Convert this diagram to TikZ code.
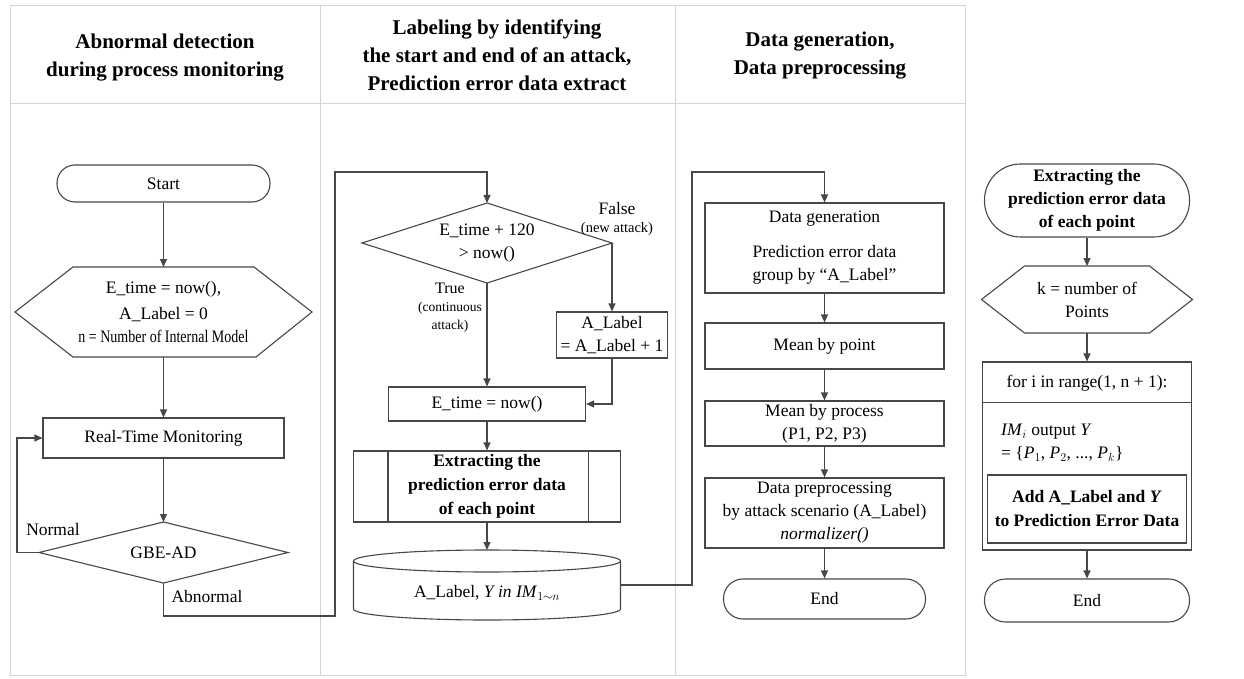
\documentclass[tikz,border=0pt]{standalone}
\usepackage{fontspec}
\setmainfont{Liberation Serif}
\usetikzlibrary{arrows.meta,calc}
\definecolor{lc}{HTML}{474747}
\definecolor{fc}{HTML}{D4D4D4}
\begin{document}
\begin{tikzpicture}[x=1pt,y=-1pt,
  tx/.style={font=\fontsize{17.5}{23}\selectfont, align=center, inner sep=0pt, text=black},
  bx/.style={tx, draw=lc, line width=1.1pt},
  ghost/.style={tx, outer sep=0pt},
  lin/.style={draw=lc, line width=1.1pt},
  arw/.style={lin, -{Triangle[length=8pt,width=7pt]}},
  hdr/.style={font=\fontsize{21}{28}\selectfont\bfseries, align=center, inner sep=0pt},
  bld/.style={font=\fontsize{17.5}{24}\selectfont\bfseries},
  frm/.style={draw=fc, line width=0.9pt}]
\useasboundingbox (0,0) rectangle (1244,679);
\fill[white] (0,0) rectangle (1244,679);
% frame
\draw[frm] (10,5) rectangle (965,675);
\draw[frm] (10,103) -- (965,103);
\draw[frm] (320,5) -- (320,675);
\draw[frm] (675,5) -- (675,675);
% headers
\node[hdr] (h1) at (165,57.5) {Abnormal detection\\during process monitoring};
\node[hdr] (h2) at (497,55.5) {Labeling by identifying\\the start and end of an attack,\\Prediction error data extract};
\node[hdr] (h3) at (820,56) {Data generation,\\Data preprocessing};

% ---------- column 1
\node[bx, rounded corners=18pt, minimum width=213pt, minimum height=37pt] (start) at (163.5,183.5) {Start};
\node[ghost, minimum width=297pt, minimum height=90pt] (hex1) at (163.5,312) {E\_time = now(),\\[3pt]A\_Label = 0\\\scalebox{0.8}[1]{n = Number of Internal Model}};
\draw[lin] (hex1.west) -- ([xshift=58pt]hex1.north west) -- ([xshift=-58pt]hex1.north east) -- (hex1.east) -- ([xshift=-56pt]hex1.south east) -- ([xshift=58pt]hex1.south west) -- cycle;
\node[bx, minimum width=241pt, minimum height=40pt] (rtm) at (163.5,438) {Real-Time Monitoring};
\node[ghost, minimum width=249pt, minimum height=61pt] (gbe) at (163.5,552.5) {GBE-AD};
\draw[lin] (gbe.north) -- (gbe.east) -- (gbe.south) -- (gbe.west) -- cycle;
\draw[arw] (start.south) -- (hex1.north);
\draw[arw] (hex1.south) -- (rtm.north);
\draw[arw] (rtm.south) -- (gbe.north);
\draw[arw] (gbe.west) -- ++(-22,0) |- (rtm.west);
\node[tx] (lnormal) at (53,530) {Normal};
\node[tx] (labn) at (207,597) {Abnormal};

% ---------- column 2
\node[ghost, minimum width=250pt, minimum height=80pt] (dia2) at (487,243) {E\_time + 120\\> now()};
\draw[lin] (dia2.north) -- (dia2.east) -- (dia2.south) -- (dia2.west) -- cycle;
\node[bx, minimum width=111pt, minimum height=46pt] (albox) at (612,335) {A\_Label\\= A\_Label + 1};
\node[bx, minimum width=197pt, minimum height=34pt] (etime) at (487,404) {E\_time = now()};
\node[bx, bld, minimum width=267pt, minimum height=71pt] (pp) at (487,486.5) {Extracting the\\prediction error data\\of each point};
\draw[lin] ([xshift=35pt]pp.north west) -- ([xshift=35pt]pp.south west);
\draw[lin] ([xshift=-33pt]pp.north east) -- ([xshift=-33pt]pp.south east);
\node[ghost, minimum width=267pt, minimum height=70pt] (cyl) at (487,585) {};
\draw[lin] ([yshift=-11pt]cyl.north west) -- ([yshift=11pt]cyl.south west) arc[start angle=180, end angle=360, x radius=133.5pt, y radius=11pt] -- ([yshift=-11pt]cyl.north east);
\draw[lin] ([yshift=-11pt]cyl.north) ellipse [x radius=133.5pt, y radius=11pt];
\node[tx] (cyltxt) at ([yshift=-8pt]cyl.center) {A\_Label, \textit{Y in IM}$_{1\sim n}$};
\node[tx, font=\fontsize{16}{18}\selectfont] (ltrue) at (450,308) {True\\{\fontsize{13.5}{18}\selectfont(continuous}\\{\fontsize{13.5}{18}\selectfont attack)}};
\node[tx, font=\fontsize{17.5}{18}\selectfont] (lfalse) at (617,219) {False\\{\fontsize{14.5}{18}\selectfont(new attack)}};
\coordinate (c1) at (335,616);
\coordinate (c2) at (335,172);
\draw[arw] (gbe.south) |- (c1) -- (c2) -| (dia2.north);
\draw[arw] (dia2.east) -- (albox.north);
\draw[arw] (dia2.south) -- (etime.north);
\draw[arw] (albox.south) |- (etime.east);
\draw[arw] (etime.south) -- (pp.north);
\draw[arw] (pp.south) -- (cyl.north);

% ---------- column 3
\node[bx, minimum width=239pt, minimum height=90pt] (db1) at (824.5,248) {Data generation\\[12pt]Prediction error data\\group by “A\_Label”};
\node[bx, minimum width=239pt, minimum height=46pt] (mp) at (824.5,346) {Mean by point};
\node[bx, minimum width=239pt, minimum height=45pt] (mpr) at (824.5,423.5) {Mean by process\\(P1, P2, P3)};
\node[bx, minimum width=239pt, minimum height=70pt] (dpp) at (824.5,513) {Data preprocessing\\by attack scenario (A\_Label)\\\textit{normalizer()}};
\node[bx, rounded corners=19.5pt, minimum width=202pt, minimum height=40pt] (end1) at (824.5,599) {End};
\coordinate (c3) at (692,585);
\coordinate (c4) at (692,172);
\draw[arw] (cyl.east) -- (c3) -- (c4) -| (db1.north);
\draw[arw] (db1.south) -- (mp.north);
\draw[arw] (mp.south) -- (mpr.north);
\draw[arw] (mpr.south) -- (dpp.north);
\draw[arw] (dpp.south) -- (end1.north);

% ---------- column 4
\node[bx, font=\fontsize{17.5}{23}\selectfont\bfseries, rounded corners=36pt, minimum width=205pt, minimum height=73pt] (term2) at (1087,200.5) {Extracting the\\prediction error data\\of each point};
\node[ghost, minimum width=211pt, minimum height=67pt] (hex2) at (1087,299.5) {k = number of\\Points};
\draw[lin] (hex2.west) -- ([xshift=43pt]hex2.north west) -- ([xshift=-43pt]hex2.north east) -- (hex2.east) -- ([xshift=-43pt]hex2.south east) -- ([xshift=43pt]hex2.south west) -- cycle;
\node[bx, minimum width=209pt, minimum height=188pt] (loop) at (1087,456) {};
\draw[lin] ([yshift=-41pt]loop.north west) -- ([yshift=-41pt]loop.north east);
\node[tx] (fortxt) at (1087,383) {for i in range(1, n + 1):};
\node[tx, align=left, anchor=west] (imtxt) at (1001,443) {\textit{IM}$_i$ output \textit{Y}\\ = \{\textit{P}$_1$, \textit{P}$_2$, ..., \textit{P}$_k$\}};
\node[bx, font=\fontsize{17.5}{24}\selectfont\bfseries, minimum width=199pt, minimum height=68pt] (addbox) at (1087,509) {Add A\_Label and \textit{Y}\\to Prediction Error Data};
\node[bx, rounded corners=21pt, minimum width=205pt, minimum height=43pt] (end2) at (1087,600.5) {End};
\draw[arw] (term2.south) -- (hex2.north);
\draw[arw] (hex2.south) -- (loop.north);
\draw[arw] (loop.south) -- (end2.north);
\end{tikzpicture}
\end{document}
